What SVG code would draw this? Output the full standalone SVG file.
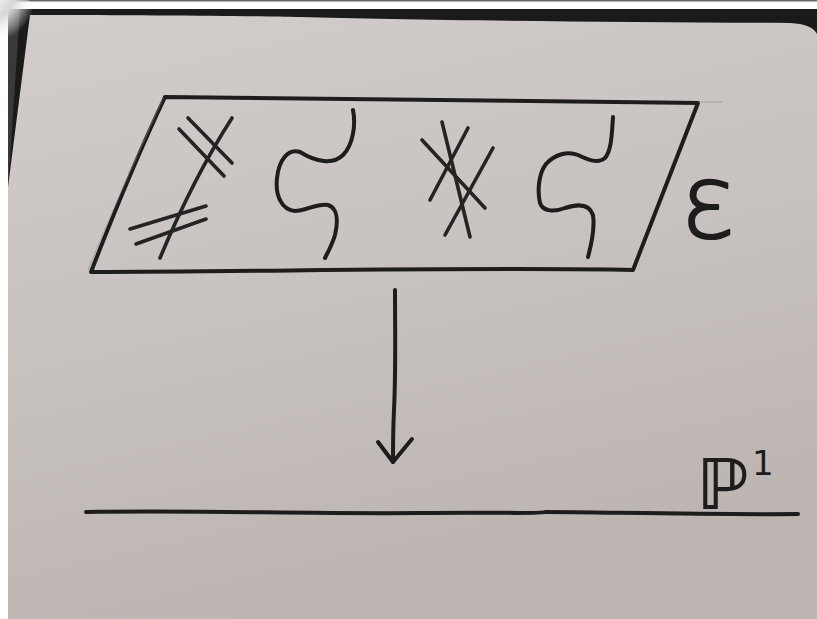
<svg xmlns="http://www.w3.org/2000/svg" width="817" height="619" viewBox="0 0 817 619">
  <defs>
    <linearGradient id="paper" x1="0" y1="0" x2="0.3" y2="1">
      <stop offset="0" stop-color="#d2cdcb"/>
      <stop offset="0.5" stop-color="#c8c2c0"/>
      <stop offset="1" stop-color="#bcb5b2"/>
    </linearGradient>
    <radialGradient id="glare" cx="0" cy="0" r="1">
      <stop offset="0" stop-color="#ffffff"/>
      <stop offset="0.5" stop-color="#d8d6d6"/>
      <stop offset="1" stop-color="#ffffff" stop-opacity="0"/>
    </radialGradient>
    <marker id="vhead" viewBox="0 0 32 40" refX="28" refY="20" markerWidth="32" markerHeight="40" markerUnits="userSpaceOnUse" orient="auto" overflow="visible">
      <path d="M5,1 L28,20 L8,35" fill="none" stroke="#1d1d1d" stroke-width="4" stroke-linecap="round" stroke-linejoin="round"/>
    </marker>
    <style>
      .ink { fill: none; stroke: #1d1d1d; stroke-width: 4; stroke-linecap: round; stroke-linejoin: round; }
      .thin { fill: none; stroke: #242424; stroke-width: 3.6; stroke-linecap: round; stroke-linejoin: round; }
      .pencil { fill: none; stroke: #8e8986; stroke-width: 1; opacity: 0.6; }
      .label { fill: #1d1d1d; font-family: "DejaVu Sans", "Liberation Sans", sans-serif; }
      .hand { stroke: #1d1d1d; stroke-width: 2.2; stroke-linejoin: round; }
    </style>
  </defs>

  <!-- photo background -->
  <rect x="0" y="0" width="817" height="619" fill="#ffffff"/>
  <rect x="0" y="0" width="817" height="1.5" fill="#6a6a6a"/>
  <rect x="8" y="9" width="809" height="610" fill="#1b1a1a"/>
  <path d="M8,9 L20,9 L8,190 Z" fill="#3a3838"/>
  <ellipse cx="14" cy="18" rx="22" ry="24" fill="url(#glare)"/>
  <path d="M30,15 C150,15 250,16 300,17 C400,20 600,22 790,23 Q812,24 817,34 L817,619 L8,619 L8,187 Z" fill="url(#paper)"/>

  <!-- node: elliptic surface E -->
  <g id="surface">
    <path class="ink" d="M165,97 C300,98 500,100 698,103 L633,270 C500,267 300,271 91,272 C115,210 140,150 165,97 Z"/>
    <path class="pencil" d="M163,98 C140,150 110,215 88,270"/>
    <path class="pencil" d="M698,102 L723,102"/>
    <!-- component 1: crossing lines -->
    <g id="comp1">
      <path class="thin" d="M160,258 C180,210 205,160 232,118"/>
      <path class="thin" d="M188,118 L232,163"/>
      <path class="thin" d="M179,129 L224,176"/>
      <path class="thin" d="M130,229 L206,206"/>
      <path class="thin" d="M136,244 L206,219"/>
    </g>
    <!-- component 2: wavy curve -->
    <g id="comp2">
      <path class="ink" d="M353,110 C356,125 353,145 343,155 C333,165 316,162 300,152 C288,148 279,160 277,178 C275,196 282,210 295,211 C305,211 318,203 328,205 C338,208 338,222 335,235 C332,245 328,252 325,258"/>
    </g>
    <!-- component 3: four crossing lines -->
    <g id="comp3">
      <path class="thin" d="M442,122 L470,237"/>
      <path class="thin" d="M468,128 L430,200"/>
      <path class="thin" d="M422,140 L485,208"/>
      <path class="thin" d="M493,148 L445,235"/>
    </g>
    <!-- component 4: wavy curve -->
    <g id="comp4">
      <path class="ink" d="M613,117 C612,130 612,150 605,158 C598,164 588,160 578,155 C568,151 555,154 546,164 C539,173 537,190 540,203 C543,212 555,212 565,208 C577,204 589,203 593,215 C595,228 592,242 588,257"/>
    </g>
    <text class="label hand" x="680" y="238" font-size="104" font-weight="200">ε</text>
  </g>

  <!-- node: base curve P^1 -->
  <g id="base">
    <path class="ink" d="M86,512 C200,510 300,514 420,513 C500,512 540,514 545,512 C600,512 700,515 798,514"/>
    <text class="label" x="697" y="509" font-size="70" font-weight="bold">ℙ</text>
    <text class="label" x="752" y="475" font-size="34">1</text>
  </g>

  <!-- connectors -->
  <g id="connectors">
    <path class="ink" d="M395,290 C395,330 396,370 394,410 C393,430 393,445 393,462" marker-end="url(#vhead)"/>
  </g>
</svg>
